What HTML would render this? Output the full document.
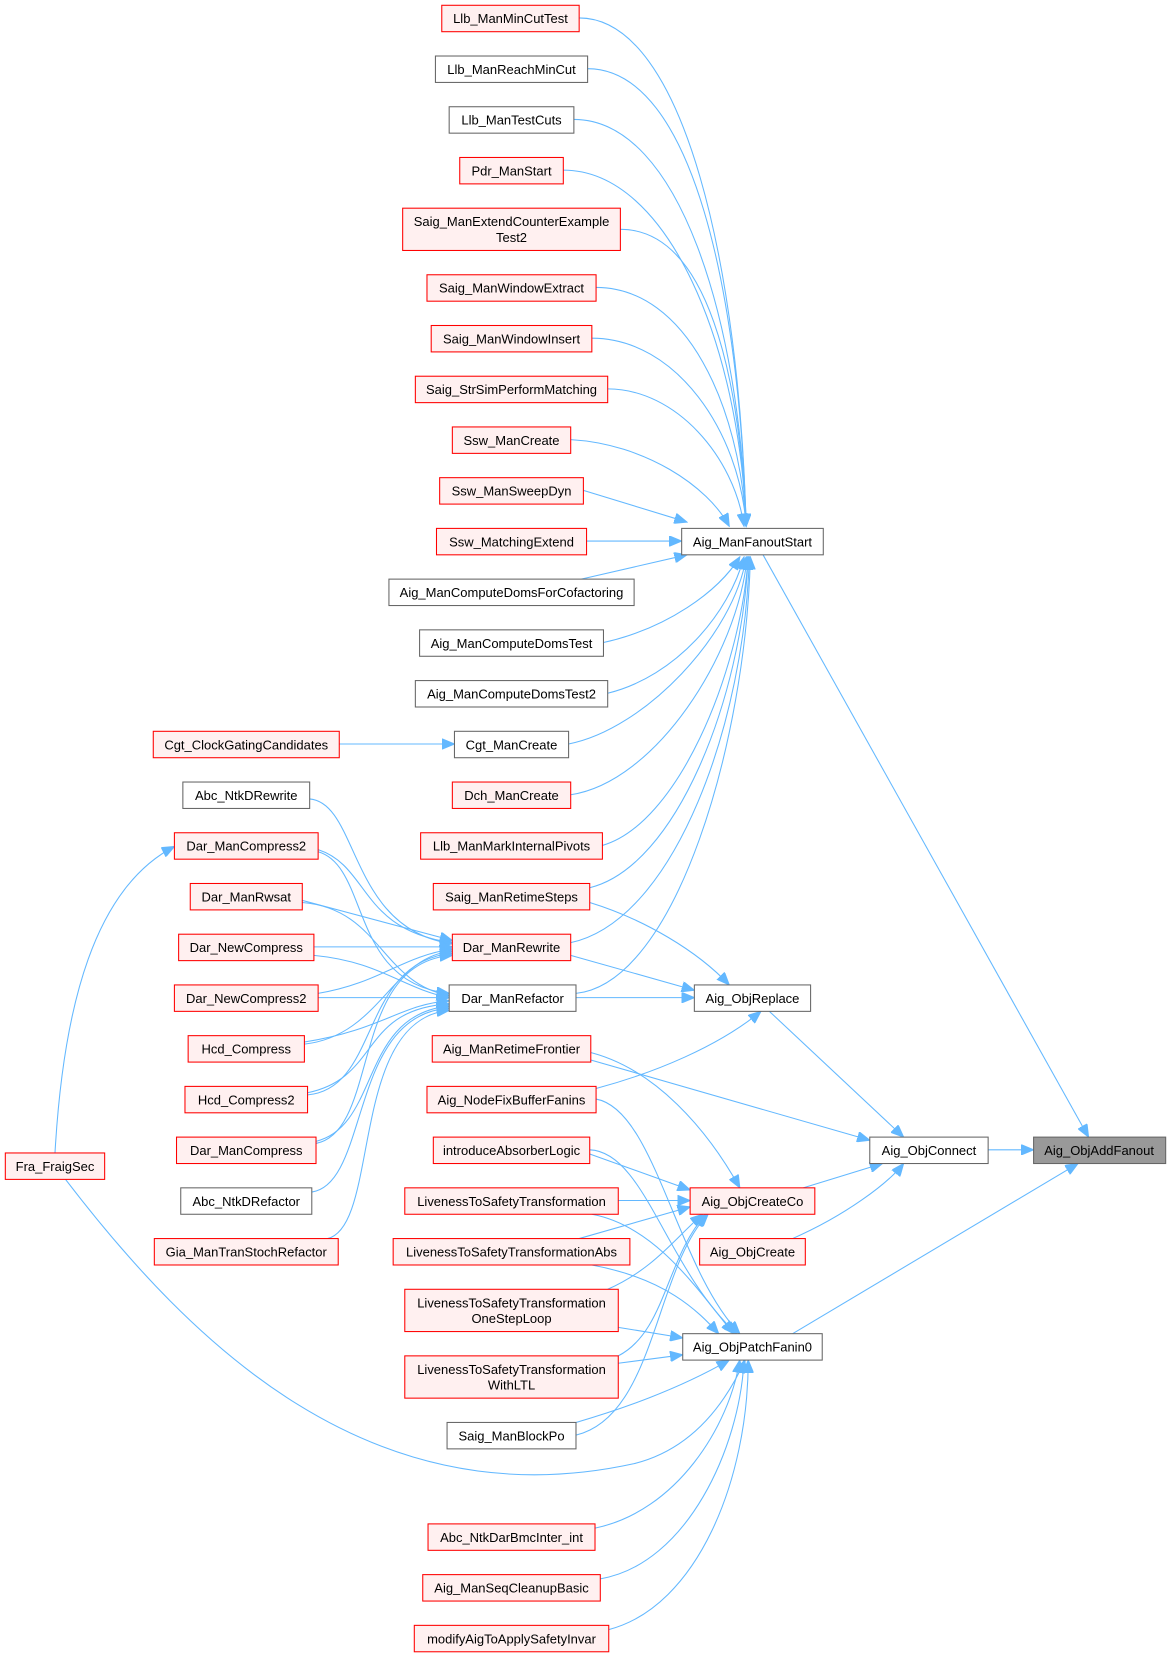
<!DOCTYPE html>
<html><head><meta charset="utf-8"><style>
html,body{margin:0;padding:0;background:#fff}
svg{display:block}
text{font-family:"Liberation Sans",Arial,sans-serif;font-size:12.3px;fill:#000}
.r{fill:#fff0f0;stroke:#ff0000;stroke-width:1}
.g{fill:#fff;stroke:#666;stroke-width:1}
.e path{fill:none;stroke:#63b8ff;stroke-width:1;marker-end:url(#a)}
</style></head><body>
<svg width="1171" height="1656" viewBox="0 0 1108 1567" xmlns="http://www.w3.org/2000/svg">
<defs><marker id="a" markerUnits="userSpaceOnUse" markerWidth="13" markerHeight="10" refX="12" refY="5" orient="auto"><path d="M0,0 L12,5 L0,10 z" fill="#63b8ff" stroke="#63b8ff"/></marker></defs>
<g class="e">
<path d="M548 17 C648 17 700 257 706 498"/>
<path d="M556 65 C656 65 700 281 706 498"/>
<path d="M543 113 C643 113 700 305 706 498"/>
<path d="M533 161 C633 161 700 329 706 498"/>
<path d="M587 217 C670 217 700 357 706 498"/>
<path d="M564 272 C650 272 700 385 706 498"/>
<path d="M560 320 C640 320 700 409 706 498"/>
<path d="M575 368 C640 368 695 433 704 498"/>
<path d="M540 416 C610 420 670 460 690 498"/>
<path d="M552 464 L650 494"/>
<path d="M555 512 L645 512"/>
<path d="M550 548 L650 525"/>
<path d="M571 608 C630 595 680 560 700 527"/>
<path d="M575 656 C640 640 690 580 704 527"/>
<path d="M538 704 C610 690 695 600 706 527"/>
<path d="M540 752 C620 740 698 620 707 527"/>
<path d="M570 800 C640 780 700 640 708 527"/>
<path d="M558 840 C640 820 702 660 708 527"/>
<path d="M540 892 C640 870 705 680 709 527"/>
<path d="M545 940 C640 930 706 700 710 527"/>
<path d="M321 704 L430 704"/>
<path d="M293 756 C340 760 330 880 428 893"/>
<path d="M301 804 C350 820 340 880 428 892"/>
<path d="M301 806 C350 820 330 930 425 940"/>
<path d="M286 852 L428 890"/>
<path d="M286 854 C360 860 360 930 425 942"/>
<path d="M297 896 L428 896"/>
<path d="M297 904 C360 910 380 935 425 944"/>
<path d="M301 944 L425 944"/>
<path d="M301 940 C360 930 380 905 428 898"/>
<path d="M288 988 C360 980 370 905 428 900"/>
<path d="M288 986 C360 975 380 950 425 947"/>
<path d="M291 1036 C360 1030 340 910 428 902"/>
<path d="M291 1034 C360 1020 340 955 425 950"/>
<path d="M299 1082 C360 1070 330 910 428 904"/>
<path d="M299 1080 C360 1065 340 960 425 952"/>
<path d="M295 1128 C350 1120 330 960 425 954"/>
<path d="M310 1172 C360 1160 330 965 425 956"/>
<path d="M52 1091 C60 950 90 840 165 801"/>
<path d="M62 1116 C180 1270 350 1440 600 1385 C660 1370 690 1320 705 1287"/>
<path d="M558 854 C610 870 660 900 690 932"/>
<path d="M540 904 L657 937"/>
<path d="M545 944 L657 944"/>
<path d="M564 1030 C620 1015 680 990 720 957"/>
<path d="M728 957 L855 1076"/>
<path d="M559 1003 L823 1079"/>
<path d="M555 995 C620 1010 670 1070 700 1124"/>
<path d="M760 1124 L835 1101"/>
<path d="M750 1172 C800 1150 840 1120 855 1101"/>
<path d="M935 1088 L978 1088"/>
<path d="M722 525 L1030 1076"/>
<path d="M750 1262 L1020 1101"/>
<path d="M558 1092 L653 1126"/>
<path d="M585 1136 L653 1136"/>
<path d="M548 1172 L653 1142"/>
<path d="M575 1220 C620 1200 640 1170 665 1149"/>
<path d="M585 1283 C630 1260 630 1190 668 1149"/>
<path d="M545 1358 C620 1340 620 1200 670 1149"/>
<path d="M564 1040 C620 1050 640 1200 700 1262"/>
<path d="M558 1088 C610 1090 630 1200 697 1262"/>
<path d="M560 1149 C620 1160 660 1220 694 1262"/>
<path d="M560 1197 C630 1210 660 1240 680 1262"/>
<path d="M585 1256 L646 1266"/>
<path d="M585 1290 L646 1282"/>
<path d="M545 1346 C600 1330 650 1310 690 1287"/>
<path d="M563 1446 C640 1430 690 1350 700 1287"/>
<path d="M568 1494 C650 1480 700 1370 704 1287"/>
<path d="M576 1542 C660 1520 708 1400 708 1287"/>
</g>
<g>
<rect class="r" x="418" y="5" width="130" height="25"/><text x="483" y="22" text-anchor="middle">Llb_ManMinCutTest</text>
<rect class="g" x="412" y="53" width="144" height="25"/><text x="484" y="70" text-anchor="middle">Llb_ManReachMinCut</text>
<rect class="g" x="425" y="101" width="118" height="25"/><text x="484" y="118" text-anchor="middle">Llb_ManTestCuts</text>
<rect class="r" x="435" y="149" width="98" height="25"/><text x="484" y="166" text-anchor="middle">Pdr_ManStart</text>
<rect class="r" x="381" y="197" width="206" height="40"/><text x="484" y="214" text-anchor="middle">Saig_ManExtendCounterExample</text><text x="484" y="229" text-anchor="middle">Test2</text>
<rect class="r" x="404" y="260" width="160" height="25"/><text x="484" y="277" text-anchor="middle">Saig_ManWindowExtract</text>
<rect class="r" x="408" y="308" width="152" height="25"/><text x="484" y="325" text-anchor="middle">Saig_ManWindowInsert</text>
<rect class="r" x="393" y="356" width="182" height="25"/><text x="484" y="373" text-anchor="middle">Saig_StrSimPerformMatching</text>
<rect class="r" x="428" y="404" width="112" height="25"/><text x="484" y="421" text-anchor="middle">Ssw_ManCreate</text>
<rect class="r" x="416" y="452" width="136" height="25"/><text x="484" y="469" text-anchor="middle">Ssw_ManSweepDyn</text>
<rect class="r" x="413" y="500" width="142" height="25"/><text x="484" y="517" text-anchor="middle">Ssw_MatchingExtend</text>
<rect class="g" x="368" y="548" width="232" height="25"/><text x="484" y="565" text-anchor="middle">Aig_ManComputeDomsForCofactoring</text>
<rect class="g" x="397" y="596" width="174" height="25"/><text x="484" y="613" text-anchor="middle">Aig_ManComputeDomsTest</text>
<rect class="g" x="393" y="644" width="182" height="25"/><text x="484" y="661" text-anchor="middle">Aig_ManComputeDomsTest2</text>
<rect class="g" x="430" y="692" width="108" height="25"/><text x="484" y="709" text-anchor="middle">Cgt_ManCreate</text>
<rect class="r" x="428" y="740" width="112" height="25"/><text x="484" y="757" text-anchor="middle">Dch_ManCreate</text>
<rect class="r" x="398" y="788" width="172" height="25"/><text x="484" y="805" text-anchor="middle">Llb_ManMarkInternalPivots</text>
<rect class="r" x="410" y="836" width="148" height="25"/><text x="484" y="853" text-anchor="middle">Saig_ManRetimeSteps</text>
<rect class="r" x="428" y="884" width="112" height="25"/><text x="484" y="901" text-anchor="middle">Dar_ManRewrite</text>
<rect class="g" x="425" y="932" width="120" height="25"/><text x="485" y="949" text-anchor="middle">Dar_ManRefactor</text>
<rect class="r" x="409" y="980" width="150" height="25"/><text x="484" y="997" text-anchor="middle">Aig_ManRetimeFrontier</text>
<rect class="r" x="404" y="1028" width="160" height="25"/><text x="484" y="1045" text-anchor="middle">Aig_NodeFixBufferFanins</text>
<rect class="r" x="410" y="1076" width="148" height="25"/><text x="484" y="1093" text-anchor="middle">introduceAbsorberLogic</text>
<rect class="r" x="383" y="1124" width="202" height="25"/><text x="484" y="1141" text-anchor="middle">LivenessToSafetyTransformation</text>
<rect class="r" x="372" y="1172" width="224" height="25"/><text x="484" y="1189" text-anchor="middle">LivenessToSafetyTransformationAbs</text>
<rect class="r" x="383" y="1220" width="202" height="40"/><text x="484" y="1237" text-anchor="middle">LivenessToSafetyTransformation</text><text x="484" y="1252" text-anchor="middle">OneStepLoop</text>
<rect class="r" x="383" y="1283" width="202" height="40"/><text x="484" y="1300" text-anchor="middle">LivenessToSafetyTransformation</text><text x="484" y="1315" text-anchor="middle">WithLTL</text>
<rect class="g" x="423" y="1346" width="122" height="25"/><text x="484" y="1363" text-anchor="middle">Saig_ManBlockPo</text>
<rect class="r" x="405" y="1442" width="158" height="25"/><text x="484" y="1459" text-anchor="middle">Abc_NtkDarBmcInter_int</text>
<rect class="r" x="400" y="1490" width="168" height="25"/><text x="484" y="1507" text-anchor="middle">Aig_ManSeqCleanupBasic</text>
<rect class="r" x="392" y="1538" width="184" height="25"/><text x="484" y="1555" text-anchor="middle">modifyAigToApplySafetyInvar</text>

<rect class="r" x="145" y="692" width="176" height="25"/><text x="233" y="709" text-anchor="middle">Cgt_ClockGatingCandidates</text>
<rect class="g" x="173" y="740" width="120" height="25"/><text x="233" y="757" text-anchor="middle">Abc_NtkDRewrite</text>
<rect class="r" x="165" y="788" width="136" height="25"/><text x="233" y="805" text-anchor="middle">Dar_ManCompress2</text>
<rect class="r" x="180" y="836" width="106" height="25"/><text x="233" y="853" text-anchor="middle">Dar_ManRwsat</text>
<rect class="r" x="169" y="884" width="128" height="25"/><text x="233" y="901" text-anchor="middle">Dar_NewCompress</text>
<rect class="r" x="165" y="932" width="136" height="25"/><text x="233" y="949" text-anchor="middle">Dar_NewCompress2</text>
<rect class="r" x="178" y="980" width="110" height="25"/><text x="233" y="997" text-anchor="middle">Hcd_Compress</text>
<rect class="r" x="175" y="1028" width="116" height="25"/><text x="233" y="1045" text-anchor="middle">Hcd_Compress2</text>
<rect class="r" x="167" y="1076" width="132" height="25"/><text x="233" y="1093" text-anchor="middle">Dar_ManCompress</text>
<rect class="g" x="171" y="1124" width="124" height="25"/><text x="233" y="1141" text-anchor="middle">Abc_NtkDRefactor</text>
<rect class="r" x="146" y="1172" width="174" height="25"/><text x="233" y="1189" text-anchor="middle">Gia_ManTranStochRefactor</text>
<rect class="r" x="5" y="1091" width="94" height="25"/><text x="52" y="1108" text-anchor="middle">Fra_FraigSec</text>

<rect class="g" x="645" y="500" width="134" height="25"/><text x="712" y="517" text-anchor="middle">Aig_ManFanoutStart</text>
<rect class="g" x="657" y="932" width="110" height="25"/><text x="712" y="949" text-anchor="middle">Aig_ObjReplace</text>
<rect class="r" x="653" y="1124" width="118" height="25"/><text x="712" y="1141" text-anchor="middle">Aig_ObjCreateCo</text>
<rect class="r" x="662" y="1172" width="100" height="25"/><text x="712" y="1189" text-anchor="middle">Aig_ObjCreate</text>
<rect class="g" x="646" y="1262" width="132" height="25"/><text x="712" y="1279" text-anchor="middle">Aig_ObjPatchFanin0</text>
<rect class="g" x="823" y="1076" width="112" height="25"/><text x="879" y="1093" text-anchor="middle">Aig_ObjConnect</text>
<rect x="978" y="1076" width="125" height="25" fill="#999" stroke="#666"/><text x="1040" y="1093" text-anchor="middle">Aig_ObjAddFanout</text>
</g>
</svg>
</body></html>
